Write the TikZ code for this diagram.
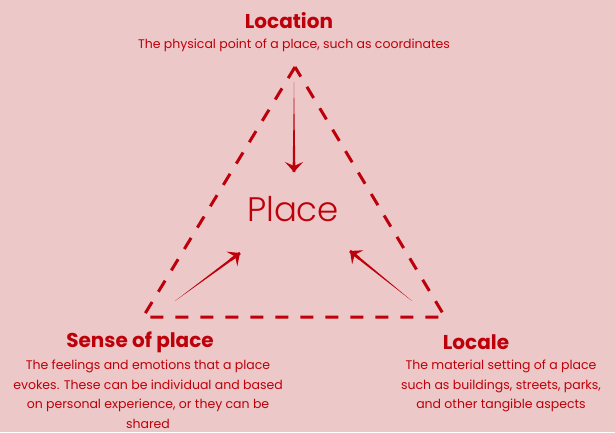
\documentclass[tikz,border=0pt]{standalone}
\usepackage{fontspec}
\setmainfont{Poppins}
\newfontfamily\lightfont{Poppins Light}
\usetikzlibrary{positioning,calc,arrows.meta}

\definecolor{placebg}{RGB}{236,200,200}
\definecolor{placered}{RGB}{190,0,10}

\tikzset{
  heading/.style={text=placered,font=\bfseries\fontsize{20}{24}\selectfont,inner sep=0pt},
  blurb/.style={text=placered,font=\fontsize{12.5}{19.5}\selectfont,align=center,inner sep=0pt},
  side/.style={draw=placered,line width=3pt,dash pattern=on 13pt off 12pt},
  pull/.style={-{Stealth[length=10pt,width=18pt,inset=4pt]},draw=placered,fill=placered}
}

% tapered arrow, thin at the start
\newcommand{\taper}[2]{%
  \fill[placered] (#1) -- ($(#2)!1.4pt!90:(#1)$) -- ($(#2)!1.4pt!-90:(#1)$) -- cycle;
  \draw[pull,line width=2.8pt] ($(#1)!0.85!(#2)$) -- (#2);}

\begin{document}
\begin{tikzpicture}[x=1pt,y=-1pt]
    % background
    \fill[placebg] (0,0) rectangle (615,432);
    \useasboundingbox (0,0) rectangle (615,432);

    % corners
    \coordinate (top) at (295,67);
    \coordinate (left) at (143,317);
    \coordinate (right) at (445,317);
    \draw[side] (top) -- (left) -- (right) -- cycle;

    % labels
    \node[heading] (location) at (289,21) {Location};
    \node[blurb] (locationtext) at (294,45) {The physical point of a place, such as coordinates};
    \node[text=placered,font=\lightfont\fontsize{34}{40}\selectfont] (place) at (293,209) {Place};
    \node[heading] (sense) at (140,342) {Sense of place};
    \node[blurb,anchor=north,text depth=0pt] (sensetext) at (148,360) {The feelings and emotions that a place\\
      evokes. These can be individual and based\\
      on personal experience, or they can be\\
      shared};
    \node[heading] (locale) at (476,342) {Locale};
    \node[blurb,anchor=north] (localetext) at (501,360) {The material setting of a place\\
      such as buildings, streets, parks,\\
      and other tangible aspects};

    % arrows into place
    \coordinate (fromtop) at (294,82);
    \coordinate (totop) at (294,172);
    \coordinate (fromleft) at (175,301);
    \coordinate (toleft) at (240,253);
    \coordinate (fromright) at (412,301);
    \coordinate (toright) at (350,251);
    \taper{fromtop}{totop}
    \taper{fromleft}{toleft}
    \taper{fromright}{toright}
\end{tikzpicture}
\end{document}
